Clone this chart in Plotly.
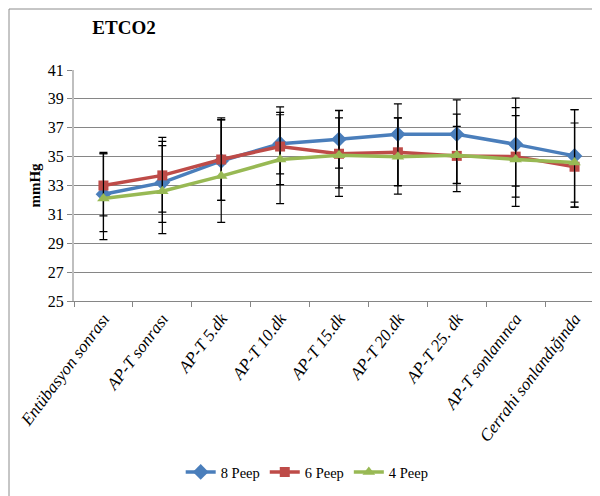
import plotly.graph_objects as go

categories = ["Entübasyon sonrası", "AP-T sonrası", "AP-T 5.dk", "AP-T 10.dk", "AP-T 15.dk",
              "AP-T 20.dk", "AP-T 25. dk", "AP-T sonlanınca", "Cerrahi sonlandığında"]

peep8 = [32.4, 33.2, 34.7, 35.9, 36.2, 36.55, 36.55, 35.85, 35.05]
peep6 = [33.0, 33.7, 34.8, 35.7, 35.2, 35.3, 35.05, 35.0, 34.3]
peep4 = [32.1, 32.6, 33.65, 34.8, 35.1, 35.0, 35.1, 34.8, 34.6]

peep8_plus = [2.8, 2.86, 2.86, 2.54, 2.0, 2.1, 2.38, 3.21, 3.2]
peep8_minus = [2.6, 2.75, 2.73, 2.84, 2.0, 3.57, 3.4, 2.9, 3.2]
peep6_plus = [2.3, 2.64, 2.88, 2.37, 2.48, 2.38, 2.9, 3.4, 3.03]
peep6_minus = [2.1, 2.55, 2.83, 1.9, 2.37, 2.3, 2.47, 2.8, 2.8]
peep4_plus = [3.1, 3.16, 3.9, 3.1, 3.08, 2.68, 2.0, 3.04, 3.65]
peep4_minus = [2.85, 2.93, 3.2, 3.06, 2.85, 2.6, 1.97, 3.24, 3.1]

y_ticks = [25, 27, 29, 31, 33, 35, 37, 39, 41]

SERIF = "'Liberation Serif', 'Times New Roman', 'DejaVu Serif', serif"

series = [
    ("8 Peep", peep8, peep8_plus, peep8_minus, "#4A7EBB", "diamond", 12),
    ("6 Peep", peep6, peep6_plus, peep6_minus, "#BE4B48", "square", 10),
    ("4 Peep", peep4, peep4_plus, peep4_minus, "#98B954", "triangle-up", 11),
]

fig = go.Figure()
for name, vals, ep, em, color, sym, size in series:
    fig.add_trace(go.Scatter(
        x=categories, y=vals, name=name, mode="lines+markers",
        line=dict(color=color, width=3.5),
        marker=dict(symbol=sym, size=size, color=color),
        error_y=dict(type="data", array=ep, arrayminus=em, symmetric=False,
                     color="black", thickness=1.2, width=4),
    ))

# chart border
L, R, T, B = 66, 4, 62, 203
W, H = 600, 496
pw, ph = W - L - R, H - T - B
fig.add_shape(type="rect", xref="paper", yref="paper",
              x0=(1 - L) / pw, x1=(598 - L) / pw,
              y0=(H - 492 - B) / ph, y1=(H - 1 - B) / ph,
              line=dict(color="#8C8C8C", width=1), fillcolor="rgba(0,0,0,0)", layer="below")

fig.update_layout(
    width=W, height=H,
    margin=dict(l=L, r=R, t=T, b=B),
    paper_bgcolor="white", plot_bgcolor="white",
    font=dict(family=SERIF, color="black", size=14),
    title=dict(text="<b>ETCO2</b>", x=116 / W, xanchor="center", y=1 - 19 / H, yanchor="middle",
               font=dict(family=SERIF, size=19, color="black")),
    showlegend=True,
    legend=dict(orientation="h", x=0.44, xanchor="center", y=-(464 - 293) / ph, yanchor="middle",
                font=dict(family=SERIF, size=14.5), itemwidth=30, tracegroupgap=0),
    xaxis=dict(
        type="category", tickson="boundaries", ticks="outside", ticklen=5, tickcolor="#868686",
        showline=True, linecolor="#868686", linewidth=1, showgrid=False,
        tickangle=-53, tickfont=dict(family=SERIF, size=17, style="italic"),
        range=[-0.5, len(categories) - 0.5],
    ),
    yaxis=dict(
        range=[25, 41], tickvals=y_ticks, ticks="outside", ticklen=5, tickcolor="#868686",
        showline=True, linecolor="#BFBFBF", linewidth=2,
        showgrid=True, gridcolor="#868686", gridwidth=1, zeroline=False,
        tickfont=dict(family=SERIF, size=16),
        title=dict(text="<b>mmHg</b>", font=dict(family=SERIF, size=15), standoff=4),
    ),
)

fig.write_html("out.html")
